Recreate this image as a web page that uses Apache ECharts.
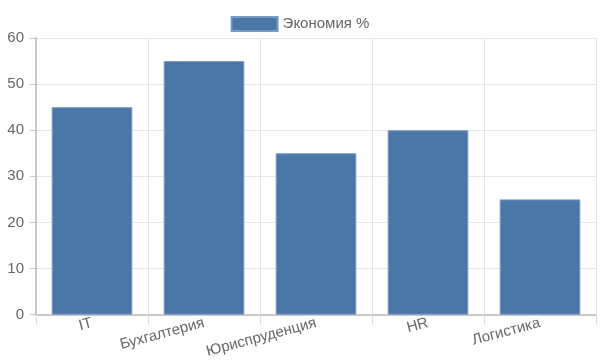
<!DOCTYPE html>
<html><head><meta charset="utf-8">
<script src="https://cdn.jsdelivr.net/npm/echarts@6/dist/echarts.min.js"></script>
<style>html,body{margin:0;padding:0;background:#fff}#c{width:600px;height:360px}</style>
</head><body><div id="c"></div>
<script>
const categories = ['IT', 'Бухгалтерия', 'Юриспруденция', 'HR', 'Логистика'];
const savings = [45, 55, 35, 40, 25];
const seriesName = 'Экономия %';

const chart = echarts.init(document.getElementById('c'));
chart.setOption({
  animation: false,
  textStyle: { fontFamily: 'Liberation Sans, Arial, sans-serif' },
  legend: {
    top: 11, left: 'center',
    icon: 'rect',
    itemWidth: 46, itemHeight: 14, itemGap: 8,
    textStyle: { fontSize: 15, color: '#666' },
    data: [seriesName]
  },
  grid: { left: 36, right: 4, top: 38, bottom: 45, containLabel: false },
  xAxis: {
    type: 'category',
    data: categories,
    boundaryGap: true,
    axisLine: { lineStyle: { color: '#c8c8c8', width: 2 } },
    axisTick: { show: true, length: 10, alignWithLabel: false, lineStyle: { color: '#dcdcdc' } },
    splitLine: { show: true, lineStyle: { color: '#e6e6e6' } },
    axisLabel: { rotate: 15, fontSize: 15, color: '#666', margin: 8, interval: 0 }
  },
  yAxis: {
    type: 'value', min: 0, max: 60, interval: 10,
    axisLine: { show: true, lineStyle: { color: '#c8c8c8', width: 2 } },
    axisTick: { show: true, length: 6, lineStyle: { color: '#c8c8c8' } },
    splitLine: { show: true, lineStyle: { color: '#e6e6e6' } },
    axisLabel: { fontSize: 15, color: '#666', margin: 12 }
  },
  series: [{
    name: seriesName,
    type: 'bar',
    data: savings,
    barWidth: '72%',
    itemStyle: { color: '#4a76a8', borderColor: '#7a9ac4', borderWidth: 1 }
  }]
});
</script></body></html>
